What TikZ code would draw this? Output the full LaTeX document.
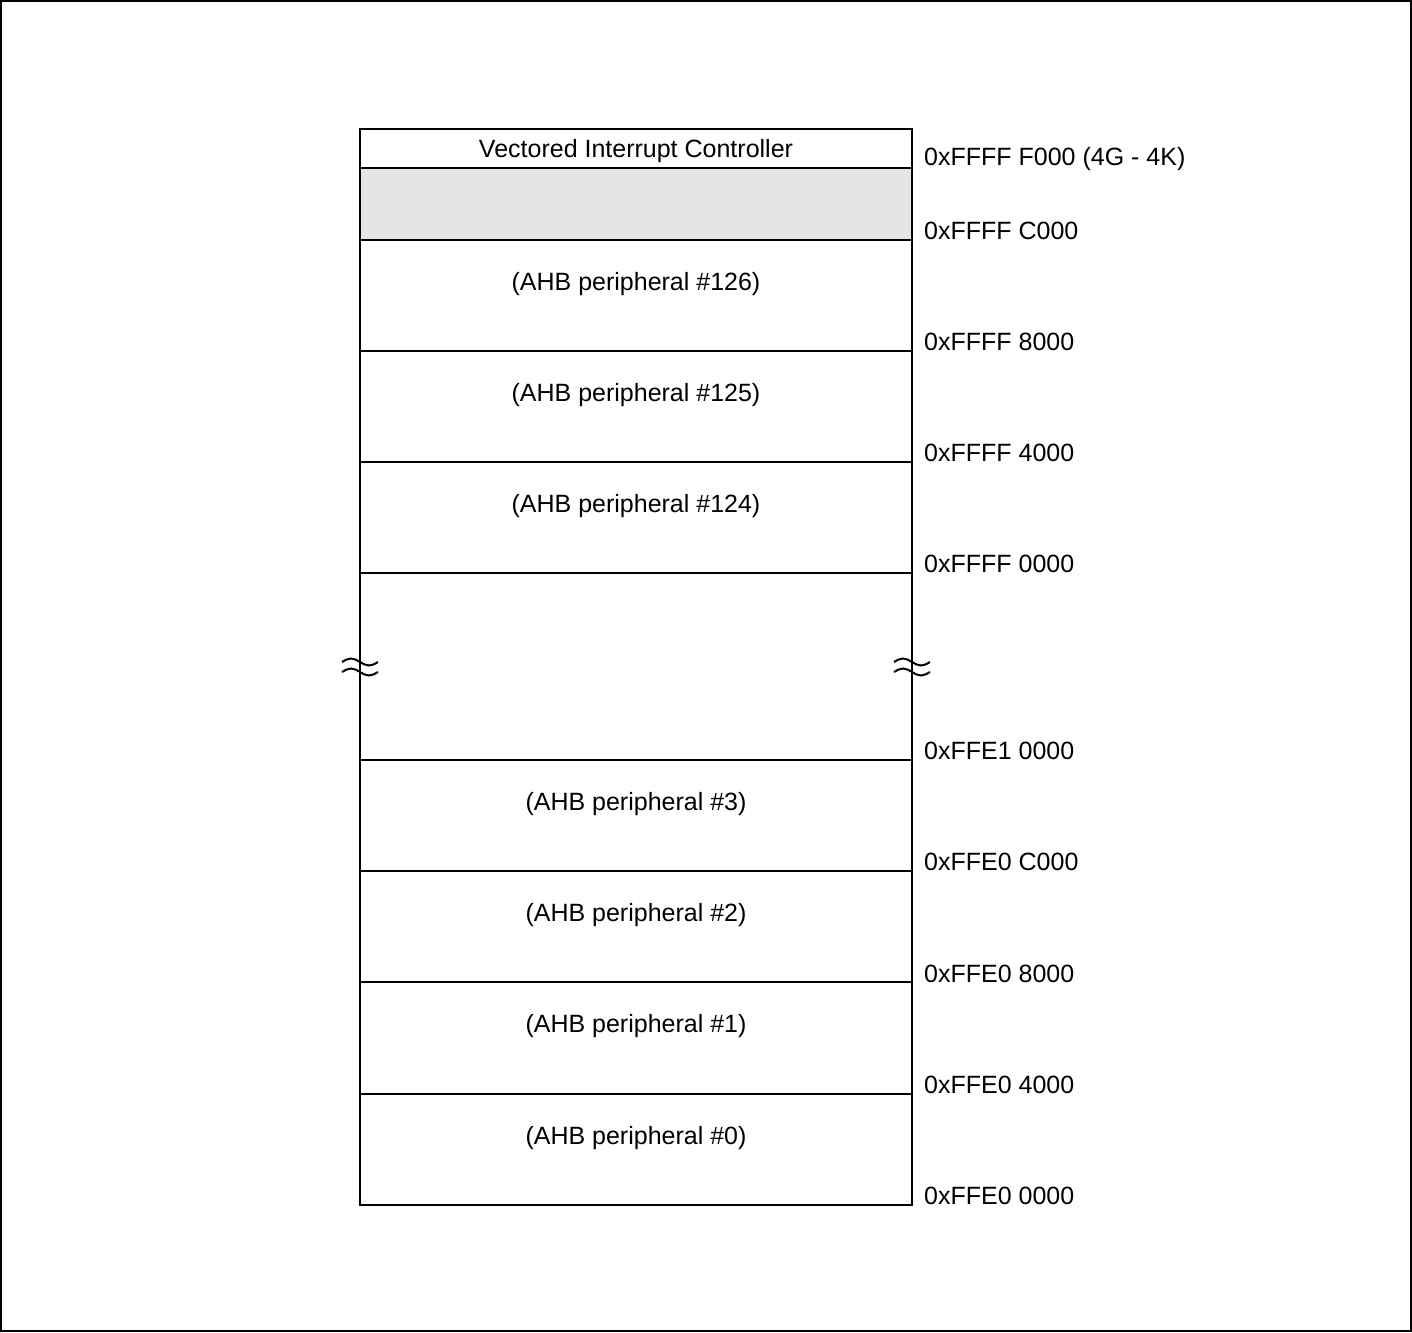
\documentclass[tikz,border=0pt]{standalone}
\usepackage{fontspec}
\setmainfont{Liberation Sans}
\begin{document}
\begin{tikzpicture}[x=1pt,y=-1pt,
  lbl/.style={font=\fontsize{25}{30}\selectfont, inner sep=0pt},
  addr/.style={lbl, anchor=west},
  sep/.style={line width=1.2pt},
  wave/.style={line width=2pt},
  frame/.style={line width=2pt}]
\useasboundingbox (0,0) rectangle (1412,1332);
\draw[frame] (1,1) rectangle (1411,1331);
% gray reserved region
\fill[gray!20] (360,168) rectangle (912,240);
% separators
\foreach \yy in {168,240,351,462,573,760,871,982,1094}
  \draw[sep] (360,\yy) -- (912,\yy);
% outer box
\draw[frame] (360,129) rectangle (912,1205);
% break marks
\foreach \xx in {360,912}{
  \foreach \yy in {662,672}{
    \draw[wave] (\xx-18,\yy) sin (\xx-9,\yy-3.5) cos (\xx,\yy) sin (\xx+9,\yy+3.5) cos (\xx+18,\yy);
  }
}
% region labels
\node[lbl] (vic) at (636,151) {Vectored Interrupt Controller};
\node[lbl] (p126) at (636,284) {(AHB peripheral \#126)};
\node[lbl] (p125) at (636,395) {(AHB peripheral \#125)};
\node[lbl] (p124) at (636,506) {(AHB peripheral \#124)};
\node[lbl] (p3) at (636,804) {(AHB peripheral \#3)};
\node[lbl] (p2) at (636,915) {(AHB peripheral \#2)};
\node[lbl] (p1) at (636,1026) {(AHB peripheral \#1)};
\node[lbl] (p0) at (636,1138) {(AHB peripheral \#0)};
% address labels
\node[addr] (a1) at (924,159) {0xFFFF F000 (4G - 4K)};
\node[addr] (a2) at (924,231) {0xFFFF C000};
\node[addr] (a3) at (924,342) {0xFFFF 8000};
\node[addr] (a4) at (924,453) {0xFFFF 4000};
\node[addr] (a5) at (924,564) {0xFFFF 0000};
\node[addr] (a6) at (924,751) {0xFFE1 0000};
\node[addr] (a7) at (924,862) {0xFFE0 C000};
\node[addr] (a8) at (924,974) {0xFFE0 8000};
\node[addr] (a9) at (924,1085) {0xFFE0 4000};
\node[addr] (a10) at (924,1196) {0xFFE0 0000};
\end{tikzpicture}
\end{document}
